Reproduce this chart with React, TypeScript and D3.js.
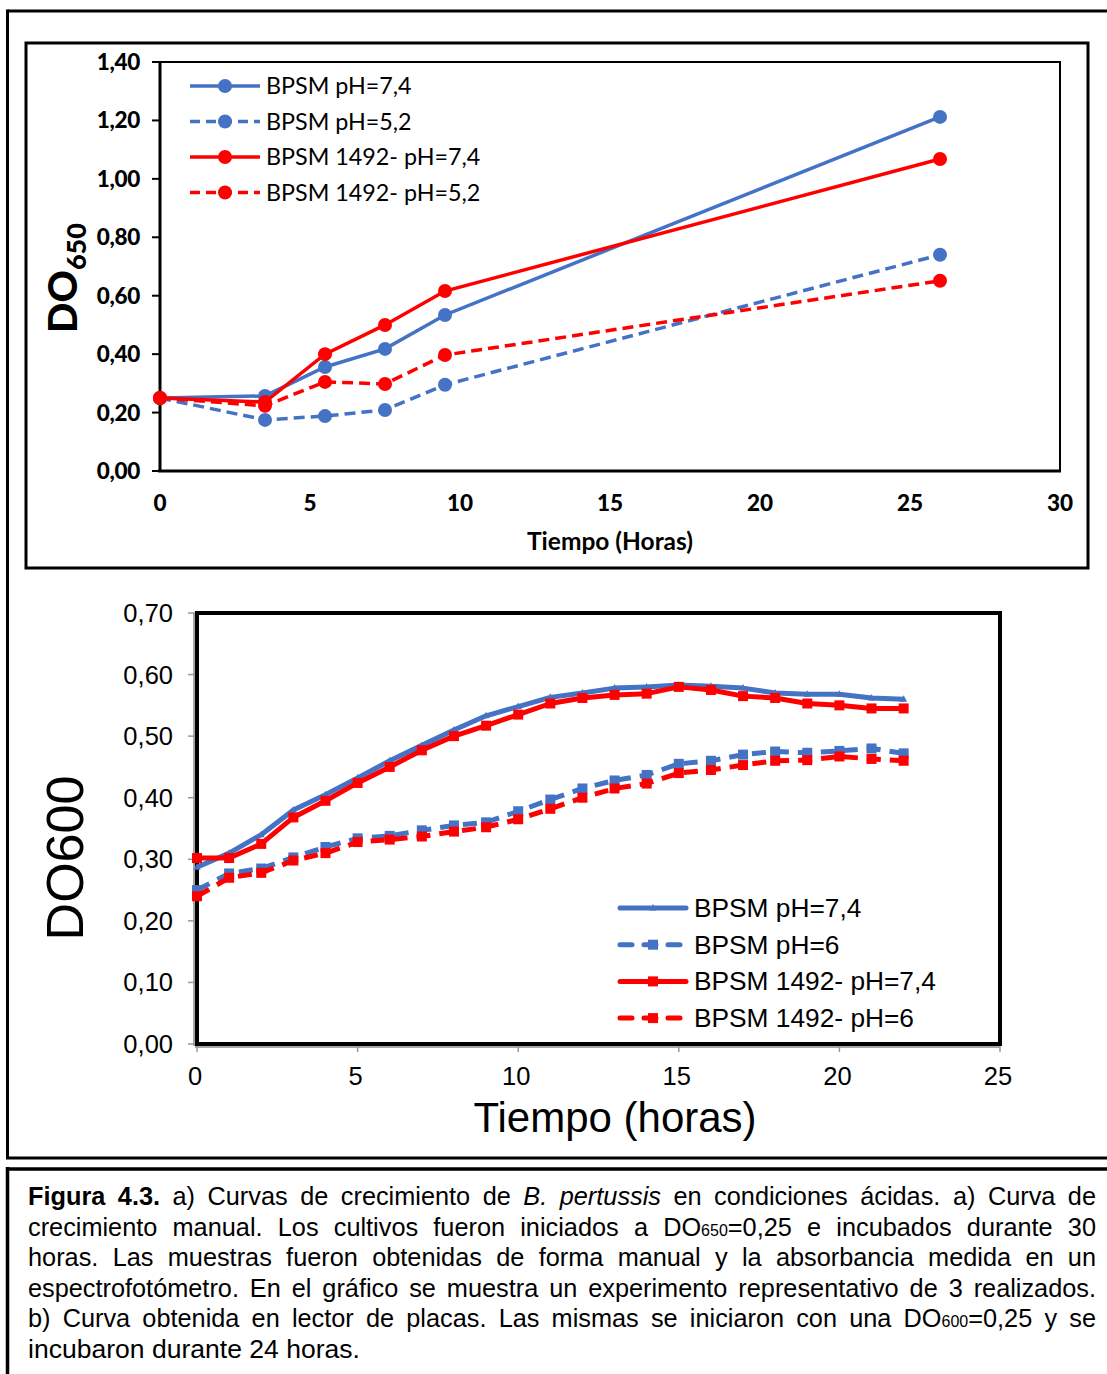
import React, { useLayoutEffect, useRef } from "react";
import * as d3 from "d3";

// ---------- Chart a) data ----------
const aHours = [0, 3.5, 5.5, 7.5, 9.5, 26];
const aBpsm74 = [0.25, 0.257, 0.356, 0.418, 0.534, 1.212];
const aBpsm52 = [0.25, 0.175, 0.188, 0.209, 0.295, 0.74];
const a1492_74 = [0.25, 0.236, 0.4, 0.5, 0.616, 1.068];
const a1492_52 = [0.25, 0.223, 0.305, 0.298, 0.397, 0.651];
const aLegend = ["BPSM pH=7,4", "BPSM pH=5,2", "BPSM 1492- pH=7,4", "BPSM 1492- pH=5,2"];
const aYTicks = [0, 0.2, 0.4, 0.6, 0.8, 1.0, 1.2, 1.4];
const aXTicks = [0, 5, 10, 15, 20, 25, 30];

// ---------- Chart b) data ----------
const bHours = d3.range(0, 23);
const bBpsm74 = [0.287, 0.31, 0.34, 0.38, 0.405, 0.432, 0.46, 0.485, 0.51, 0.533, 0.548, 0.563, 0.57, 0.578, 0.58, 0.583, 0.581, 0.578, 0.57, 0.568, 0.568, 0.562, 0.56];
const bBpsm6 = [0.25, 0.277, 0.285, 0.303, 0.32, 0.334, 0.338, 0.347, 0.355, 0.36, 0.378, 0.397, 0.415, 0.428, 0.437, 0.455, 0.46, 0.47, 0.475, 0.473, 0.476, 0.48, 0.472];
const b1492_74 = [0.302, 0.302, 0.325, 0.368, 0.395, 0.424, 0.45, 0.477, 0.5, 0.517, 0.535, 0.553, 0.562, 0.567, 0.569, 0.58, 0.575, 0.565, 0.562, 0.553, 0.55, 0.545, 0.545];
const b1492_6 = [0.24, 0.27, 0.278, 0.298, 0.31, 0.328, 0.332, 0.337, 0.345, 0.352, 0.365, 0.382, 0.4, 0.415, 0.423, 0.44, 0.445, 0.453, 0.46, 0.461, 0.467, 0.463, 0.46];
const bLegend = ["BPSM pH=7,4", "BPSM pH=6", "BPSM 1492- pH=7,4", "BPSM 1492- pH=6"];
const bYTicks = [0, 0.1, 0.2, 0.3, 0.4, 0.5, 0.6, 0.7];
const bXTicks = [0, 5, 10, 15, 20, 25];

const BLUE = "#4472C4";
const RED = "#FF0000";
const fmt = (v: number) => d3.format(".2f")(v).replace(".", ",");

type Seg = { t: string; b?: boolean; i?: boolean; sub?: boolean };
const captionLines: Seg[][] = [
  [{ t: "Figura 4.3.", b: true }, { t: " a) Curvas de crecimiento de " }, { t: "B. pertussis", i: true }, { t: " en condiciones ácidas. a) Curva de" }],
  [{ t: "crecimiento manual. Los cultivos fueron iniciados a DO" }, { t: "650", sub: true }, { t: "=0,25 e incubados durante 30" }],
  [{ t: "horas. Las muestras fueron obtenidas de forma manual y la absorbancia medida en un" }],
  [{ t: "espectrofotómetro. En el gráfico se muestra un experimento representativo de 3 realizados." }],
  [{ t: "b) Curva obtenida en lector de placas. Las mismas se iniciaron con una DO" }, { t: "600", sub: true }, { t: "=0,25 y se" }],
  [{ t: "incubaron durante 24 horas." }],
];

function ChartA() {
  const x = d3.scaleLinear().domain([0, 30]).range([160, 1060]);
  const y = d3.scaleLinear().domain([0, 1.4]).range([471, 62]);
  const series = [
    { v: aBpsm74, c: BLUE, dash: "" },
    { v: aBpsm52, c: BLUE, dash: "11 6" },
    { v: a1492_74, c: RED, dash: "" },
    { v: a1492_52, c: RED, dash: "11 6" },
  ];
  const line = d3.line<number>().x((_, i) => x(aHours[i])).y((d) => y(d));
  const font = "Lato, 'Open Sans', sans-serif";
  return (
    <g>
      <rect x={26} y={43} width={1062} height={525} fill="none" stroke="#000" strokeWidth={3} />
      <rect x={160} y={62} width={900} height={409} fill="#fff" stroke="#000" strokeWidth={2} />
      <line x1={160} x2={160} y1={62} y2={472} stroke="#000" strokeWidth={3} />
      <line x1={158} x2={1061} y1={471} y2={471} stroke="#000" strokeWidth={3} />
      {aYTicks.map((t) => (
        <g key={t}>
          <line x1={152} x2={160} y1={y(t)} y2={y(t)} stroke="#000" strokeWidth={2} />
          <text x={140} y={y(t) + 8} textAnchor="end" fontFamily={font} fontWeight="900" fontSize={22.5} letterSpacing={-0.3}>
            {fmt(t)}
          </text>
        </g>
      ))}
      {aXTicks.map((t) => (
        <text key={t} x={x(t)} y={511} textAnchor="middle" fontFamily={font} fontWeight="900" fontSize={22.5}>
          {t}
        </text>
      ))}
      <text x={610} y={550} textAnchor="middle" fontFamily={font} fontWeight="bold" fontSize={24.5}>
        Tiempo (Horas)
      </text>
      <text transform="translate(77,333) rotate(-90)" fontFamily={font} fontWeight="900" fontSize={40}>
        DO<tspan fontSize={27} dy={9}>650</tspan>
      </text>
      {series.map((s, k) => (
        <g key={k}>
          <path d={line(s.v) || ""} fill="none" stroke={s.c} strokeWidth={3.5} strokeDasharray={s.dash} />
          {s.v.map((d, i) => (
            <circle key={i} cx={x(aHours[i])} cy={y(d)} r={7} fill={s.c} />
          ))}
        </g>
      ))}
      {aLegend.map((name, k) => {
        const yy = 86 + k * 35.5;
        const s = series[k];
        return (
          <g key={name}>
            <line x1={190} x2={260} y1={yy} y2={yy} stroke={s.c} strokeWidth={3.5} strokeDasharray={s.dash ? "10 6" : ""} />
            <circle cx={225} cy={yy} r={7} fill={s.c} />
            <text x={266} y={yy + 8} fontFamily={font} fontSize={23.3}>
              {name}
            </text>
          </g>
        );
      })}
    </g>
  );
}

function ChartB() {
  const x = d3.scaleLinear().domain([0, 25]).range([197, 1000]);
  const y = d3.scaleLinear().domain([0, 0.7]).range([1044, 613]);
  const series = [
    { v: bBpsm74, c: BLUE, dash: "", m: "tri" },
    { v: bBpsm6, c: BLUE, dash: "14 9", m: "sq" },
    { v: b1492_74, c: RED, dash: "", m: "sq" },
    { v: b1492_6, c: RED, dash: "14 9", m: "sq" },
  ];
  const line = d3.line<number>().x((_, i) => x(bHours[i])).y((d) => y(d));
  const font = "'Liberation Sans', Arial, sans-serif";
  const marker = (m: string, cx: number, cy: number, c: string, key: any) =>
    m === "tri" ? (
      <path key={key} d={`M${cx},${cy - 4}L${cx + 3.5},${cy + 2.5}L${cx - 3.5},${cy + 2.5}Z`} fill={c} />
    ) : (
      <rect key={key} x={cx - 5} y={cy - 5} width={10} height={10} fill={c} />
    );
  return (
    <g>
      <rect x={197} y={613} width={803} height={431} fill="#fff" stroke="#000" strokeWidth={4} />
      <line x1={194} x2={194} y1={613} y2={1046} stroke="#888" strokeWidth={1.5} />
      <line x1={195} x2={1000} y1={1047} y2={1047} stroke="#888" strokeWidth={1.5} />
      {bYTicks.map((t) => (
        <g key={t}>
          <line x1={188} x2={195} y1={y(t)} y2={y(t)} stroke="#999" strokeWidth={1.5} />
          <text x={173} y={y(t) + 9} textAnchor="end" fontFamily={font} fontSize={25.5}>
            {fmt(t)}
          </text>
        </g>
      ))}
      {bXTicks.map((t) => (
        <g key={t}>
          <line x1={x(t)} x2={x(t)} y1={1046} y2={1052} stroke="#999" strokeWidth={1.5} />
          <text x={x(t) - 2} y={1085} textAnchor="middle" fontFamily={font} fontSize={25.5}>
            {t}
          </text>
        </g>
      ))}
      <text x={615} y={1132} textAnchor="middle" fontFamily={font} fontSize={42}>
        Tiempo (horas)
      </text>
      <text transform="translate(83,858) rotate(-90)" textAnchor="middle" fontFamily={font} fontSize={52}>
        DO600
      </text>
      {series.map((s, k) => (
        <g key={k}>
          <path d={line(s.v) || ""} fill="none" stroke={s.c} strokeWidth={5} strokeDasharray={s.dash} strokeLinejoin="round" />
          {s.v.map((d, i) => marker(s.m, x(bHours[i]), y(d), s.c, i))}
        </g>
      ))}
      {bLegend.map((name, k) => {
        const yy = 908 + k * 36.7;
        const s = series[k];
        return (
          <g key={name}>
            <line x1={620} x2={686} y1={yy} y2={yy} stroke={s.c} strokeWidth={5} strokeLinecap="round" strokeDasharray={s.dash ? "12 12" : ""} />
            {marker(s.m, 653, yy, s.c, "m")}
            <text x={694} y={yy + 9} fontFamily={font} fontSize={26.3}>
              {name}
            </text>
          </g>
        );
      })}
    </g>
  );
}

const captionTargets = [1068, 1068, 1068, 1068, 1068, 332];

function Caption() {
  const refs = useRef<(SVGTextElement | null)[]>([]);
  useLayoutEffect(() => {
    refs.current.forEach((el, i) => {
      if (!el) return;
      const target = captionTargets[i];
      el.setAttribute("word-spacing", "0");
      el.removeAttribute("textLength");
      const w = el.getComputedTextLength();
      const spaces = (el.textContent || "").split(" ").length - 1;
      if (w > target || i === captionLines.length - 1) {
        el.setAttribute("textLength", String(target));
        el.setAttribute("lengthAdjust", "spacingAndGlyphs");
      } else if (spaces > 0) {
        el.setAttribute("word-spacing", String((target - w) / spaces));
      }
    });
  }, []);
  const font = "'Liberation Sans', Arial, sans-serif";
  return (
    <g>
      {captionLines.map((segs, i) => (
        <text
          key={i}
          ref={(el) => (refs.current[i] = el)}
          x={28}
          y={1205 + i * 30.6}
          fontFamily={font}
          fontSize={25.3}
          fill="#000"
        >
          {segs.map((s, j) => (
            <tspan key={j} fontWeight={s.b ? "bold" : "normal"} fontStyle={s.i ? "italic" : "normal"} fontSize={s.sub ? 16 : undefined}>
              {s.t}
            </tspan>
          ))}
        </text>
      ))}
    </g>
  );
}

export default function App() {
  return (
    <svg width={1107} height={1374} style={{ position: "absolute", left: 0, top: 0, background: "#fff" }}>
      <rect x={0} y={0} width={1107} height={1374} fill="#fff" />
      {/* outer frame */}
      <line x1={7.5} x2={1107} y1={11} y2={11} stroke="#000" strokeWidth={3} />
      <line x1={7.5} x2={7.5} y1={9.5} y2={1159} stroke="#000" strokeWidth={3} />
      <line x1={6} x2={1107} y1={1158} y2={1158} stroke="#000" strokeWidth={3} />
      {/* caption frame */}
      <line x1={6} x2={1107} y1={1169} y2={1169} stroke="#000" strokeWidth={3.5} />
      <line x1={7.5} x2={7.5} y1={1167} y2={1374} stroke="#000" strokeWidth={3.5} />
      <ChartA />
      <ChartB />
      <Caption />
    </svg>
  );
}
